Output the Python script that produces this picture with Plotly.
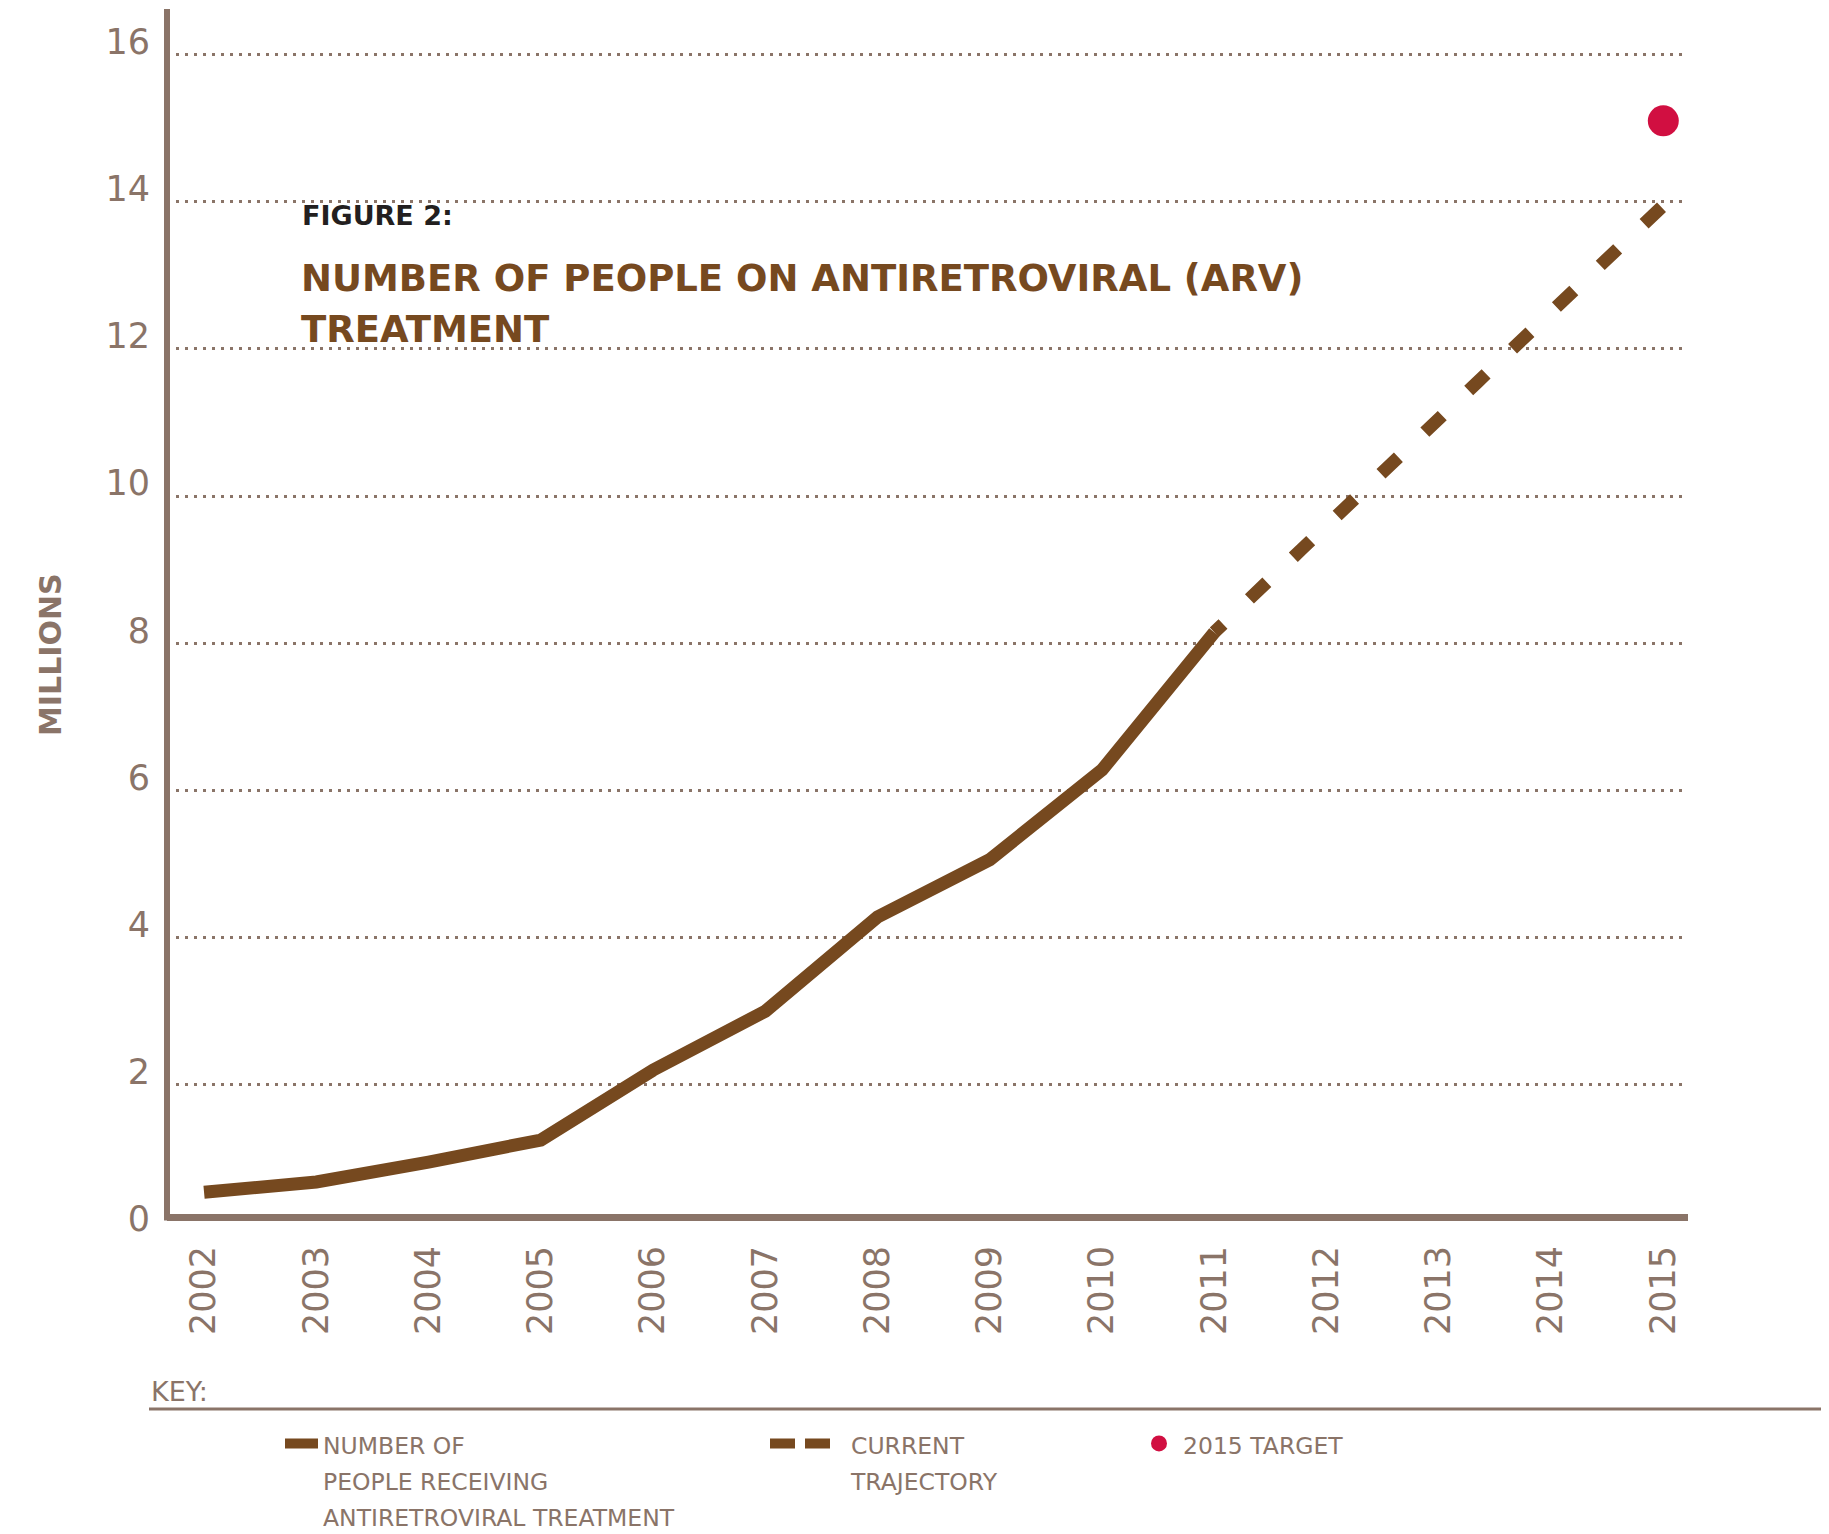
import plotly.graph_objects as go

# ---- data ----
years = [2002, 2003, 2004, 2005, 2006, 2007, 2008, 2009, 2010, 2011]
people_on_arv = [0.54, 0.68, 0.95, 1.25, 2.20, 3.00, 4.28, 5.06, 6.28, 8.15]
traj_years = [2011, 2012, 2013, 2014, 2015]
traj_values = [8.15, 9.60, 11.05, 12.50, 13.95]
target_years = [2015]
target_values = [15.1]
x_ticks = list(range(2002, 2016))
y_ticks = [0, 2, 4, 6, 8, 10, 12, 14, 16]

# ---- styling ----
OFF = 8                      # default page margin of the HTML body
W, H = 1829 - OFF, 1534 - OFF
ML, MR, MT, MB = 159, 141, 1, 302
PW, PH = W - ML - MR, H - MT - MB
BROWN = "#76491f"
GREY = "#8a7468"
RED = "#d10f41"
DARK = "#231f20"
FONT = "DejaVu Sans"


def rx(x):
    """screen x (px) -> paper x"""
    return (x - OFF - ML) / PW


def ry(y):
    """screen y (px) -> paper y"""
    return (H - MB - (y - OFF)) / PH


def leg_text(lines):
    return "<br>".join('<span style="font-size:23.5px">%s</span>' % s for s in lines)


fig = go.Figure()

fig.add_trace(go.Scatter(
    x=years, y=people_on_arv, mode="lines",
    line=dict(color=BROWN, width=13),
    name=leg_text(["NUMBER OF", "PEOPLE RECEIVING", "ANTIRETROVIRAL TREATMENT"]),
    legend="legend", showlegend=True, hoverinfo="skip"))

fig.add_trace(go.Scatter(
    x=traj_years, y=traj_values, mode="lines",
    line=dict(color=BROWN, width=13, dash="12px,36.5px,24px,36.5px,12px,0px"),
    showlegend=False, hoverinfo="skip"))

# legend entry for the dashed trajectory (icon only, no data)
fig.add_trace(go.Scatter(
    x=[None], y=[None], mode="lines",
    line=dict(color=BROWN, width=12, dash="25px,10px,25px,200px"),
    name=leg_text(["CURRENT", "TRAJECTORY"]), legend="legend2", showlegend=True))

fig.add_trace(go.Scatter(
    x=target_years, y=target_values, mode="markers",
    marker=dict(color=RED, size=31, line=dict(width=0)),
    name=leg_text(["2015 TARGET"]), legend="legend3", showlegend=True, hoverinfo="skip"))

leg_common = dict(font=dict(family=FONT, size=27.5, color=GREY),
                  bgcolor="rgba(0,0,0,0)", xanchor="left", yanchor="top",
                  valign="top", orientation="v", borderwidth=0)

LEG_Y = ry(1419)

fig.update_layout(
    width=W, height=H,
    margin=dict(l=ML, r=MR, t=MT, b=MB, pad=0, autoexpand=False),
    paper_bgcolor="white", plot_bgcolor="white",
    font=dict(family=FONT, color=GREY),
    legend=dict(x=rx(280), y=LEG_Y, itemwidth=33, **leg_common),
    legend2=dict(x=rx(765), y=LEG_Y, itemwidth=76, **leg_common),
    legend3=dict(x=rx(1135), y=LEG_Y, itemwidth=38, **leg_common),
    xaxis=dict(
        range=[2001.67, 2015.22], tickvals=x_ticks,
        ticktext=[str(v) for v in x_ticks],
        tickangle=-90, tickfont=dict(family=FONT, size=35, color=GREY),
        showgrid=False, zeroline=False,
        showline=True, linecolor=GREY, linewidth=7,
        anchor="free", position=(H - MB - (1217 - OFF)) / PH,
        ticks="", ticklabelstandoff=11),
    yaxis=dict(
        range=[0, 16.62], tickvals=y_ticks,
        tickfont=dict(family=FONT, size=35, color=GREY),
        showgrid=True, gridcolor=GREY, gridwidth=2.5, griddash="2.5px,6.5px",
        zeroline=False, showline=False, ticks="",
        ticklabelstandoff=16, ticklabelshift=-13),
    shapes=[
        dict(type="line", xref="paper", yref="paper", x0=0, x1=0,
             y0=ry(1220.5), y1=1, line=dict(color=GREY, width=6)),
        dict(type="line", xref="paper", yref="paper", x0=rx(149), x1=rx(1826),
             y0=ry(1409), y1=ry(1409), line=dict(color=GREY, width=3)),
    ],
    annotations=[
        dict(text="<b>FIGURE 2:</b>", x=rx(300), y=ry(215), xref="paper", yref="paper",
             xanchor="left", yanchor="middle", showarrow=False,
             font=dict(family=FONT, size=27, color=DARK)),
        dict(text="<b>NUMBER OF PEOPLE ON ANTIRETROVIRAL (ARV)</b>", x=rx(299), y=ry(278),
             xref="paper", yref="paper", xanchor="left", yanchor="middle", showarrow=False,
             font=dict(family=FONT, size=37, color=BROWN)),
        dict(text="<b>TREATMENT</b>", x=rx(299), y=ry(329),
             xref="paper", yref="paper", xanchor="left", yanchor="middle", showarrow=False,
             font=dict(family=FONT, size=37, color=BROWN)),
        dict(text="<b>MILLIONS</b>", x=rx(50), y=ry(655), xref="paper", yref="paper",
             xanchor="center", yanchor="middle", textangle=-90, showarrow=False,
             font=dict(family=FONT, size=30, color=GREY)),
        dict(text="KEY:", x=rx(149), y=ry(1391), xref="paper", yref="paper",
             xanchor="left", yanchor="middle", showarrow=False,
             font=dict(family=FONT, size=27, color=GREY)),
    ],
)

fig.write_html("out.html")
